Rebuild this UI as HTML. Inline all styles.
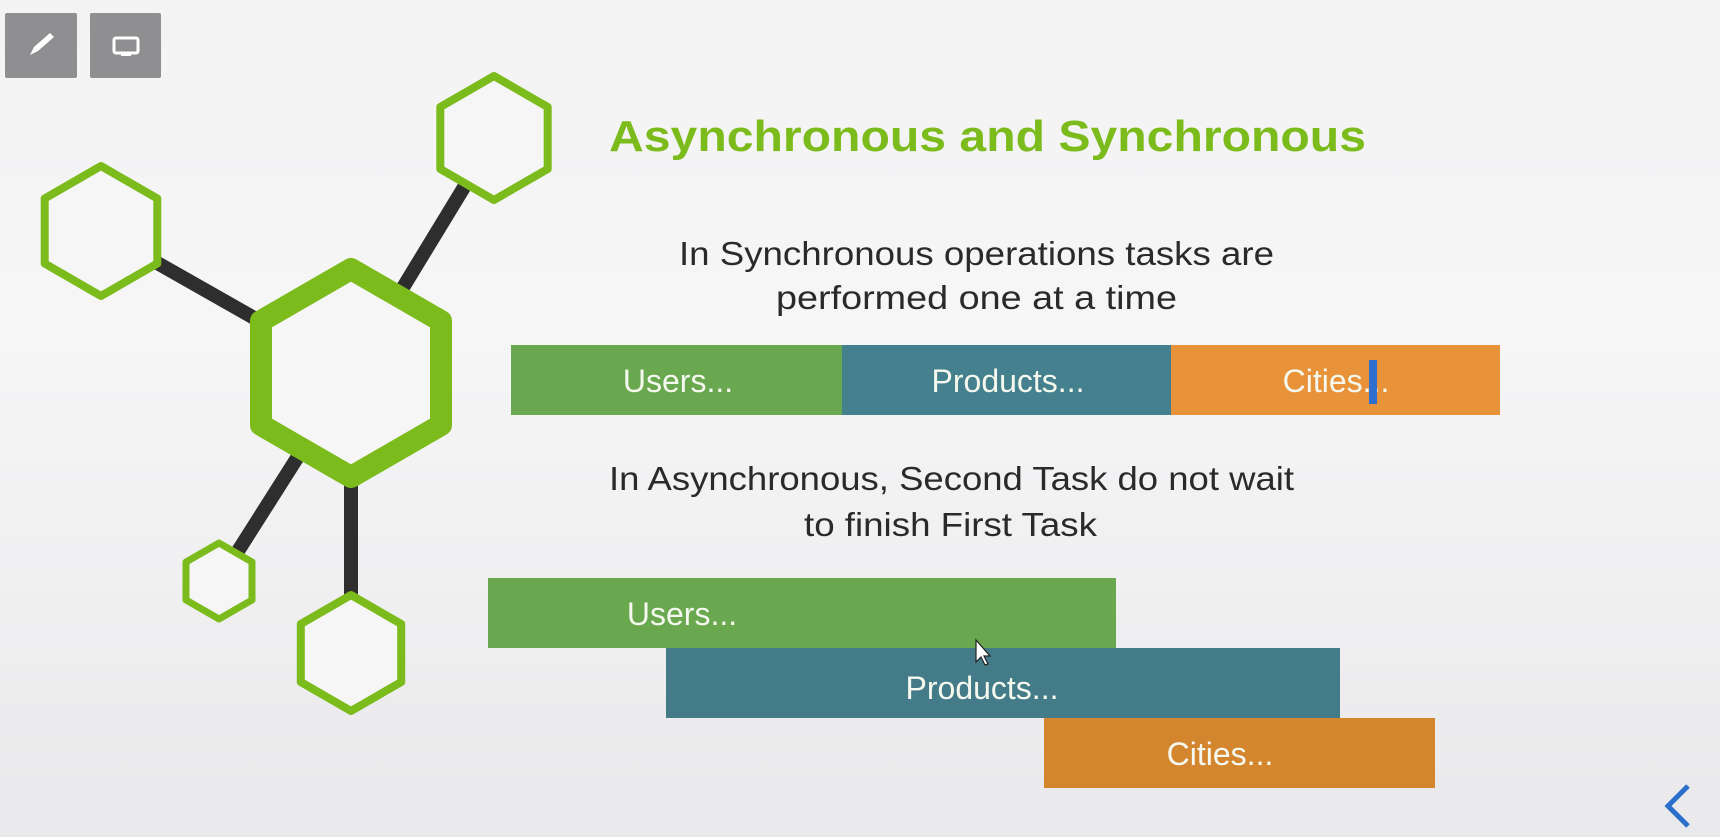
<!DOCTYPE html>
<html><head><meta charset="utf-8"><style>
html,body{margin:0;padding:0;}
body{width:1720px;height:837px;overflow:hidden;background:linear-gradient(#f3f3f4,#f6f6f7 40%,#e9e9eb);}
svg{position:absolute;left:0;top:0;}
</style></head><body>
<svg width="1720" height="837" viewBox="0 0 1720 837" xmlns="http://www.w3.org/2000/svg">
<rect x="5" y="13" width="72" height="65" rx="2" fill="#8f8f91"/>
<rect x="90" y="13" width="71" height="65" rx="2" fill="#8f8f91"/>
<path d="M30 55 L34 47 L50 33 L54 37 L38 51 Z" fill="#fff"/>
<rect x="114" y="38" width="24" height="15" rx="2" fill="none" stroke="#fff" stroke-width="3"/>
<rect x="121" y="53" width="10" height="3" fill="#fff"/>
<g stroke="#2e2e2e" stroke-width="14">
<line x1="351" y1="373" x2="494" y2="138"/>
<line x1="351" y1="373" x2="101" y2="231"/>
<line x1="351" y1="373" x2="219" y2="581"/>
<line x1="351" y1="373" x2="351" y2="653"/>
</g>
<g fill="#f6f6f6" stroke="#7cbb1c" stroke-linejoin="round">
<polygon stroke-width="22" points="351,269 441,321 441,425 351,477 261,425 261,321"/>
<polygon stroke-width="8" points="494,76 547.7,107 547.7,169 494,200 440.3,169 440.3,107"/>
<polygon stroke-width="8" points="101,166 157.3,198.5 157.3,263.5 101,296 44.7,263.5 44.7,198.5"/>
<polygon stroke-width="7" points="219,543 252,562 252,600 219,619 186,600 186,562"/>
<polygon stroke-width="8" points="351,595 401.2,624 401.2,682 351,711 300.8,682 300.8,624"/>
</g>
<text x="609" y="151" font-family="Liberation Sans, sans-serif" font-weight="bold" font-size="44" fill="#7cbb1c" textLength="757" lengthAdjust="spacingAndGlyphs">Asynchronous and Synchronous</text>
<g font-family="Liberation Sans, sans-serif" font-size="33" fill="#2a2a2a" lengthAdjust="spacingAndGlyphs">
<text x="679" y="265" textLength="595" lengthAdjust="spacingAndGlyphs">In Synchronous operations tasks are</text>
<text x="776" y="309" textLength="401" lengthAdjust="spacingAndGlyphs">performed one at a time</text>
<text x="609" y="490" textLength="685" lengthAdjust="spacingAndGlyphs">In Asynchronous, Second Task do not wait</text>
<text x="804" y="536" textLength="293" lengthAdjust="spacingAndGlyphs">to finish First Task</text>
</g>
<rect x="511" y="345" width="331" height="70" fill="#6aa84f"/>
<rect x="842" y="345" width="329" height="70" fill="#45808e"/>
<rect x="1171" y="345" width="329" height="70" fill="#e8923a"/>
<rect x="488" y="578" width="628" height="70" fill="#6aa84f"/>
<rect x="666" y="648" width="674" height="70" fill="#437b88"/>
<rect x="1044" y="718" width="391" height="70" fill="#d4862f"/>
<g font-family="Liberation Sans, sans-serif" font-size="32" fill="#f4f8ee" text-anchor="middle">
<text x="678" y="392">Users...</text>
<text x="1008" y="392">Products...</text>
<text x="1336" y="392">Cities...</text>
<text x="682" y="625">Users...</text>
<text x="982" y="699">Products...</text>
<text x="1220" y="765">Cities...</text>
</g>
<rect x="1369" y="360" width="8" height="44" fill="#2f6fd0"/>
<path d="M976 640 L976 662 L981 657 L985 665 L988 664 L984 656 L990 656 Z" fill="#fff" stroke="#222" stroke-width="1.2"/>
<polyline points="1688,786 1668,806 1688,826" fill="none" stroke="#2a6fc9" stroke-width="5"/>
</svg>
</body></html>
